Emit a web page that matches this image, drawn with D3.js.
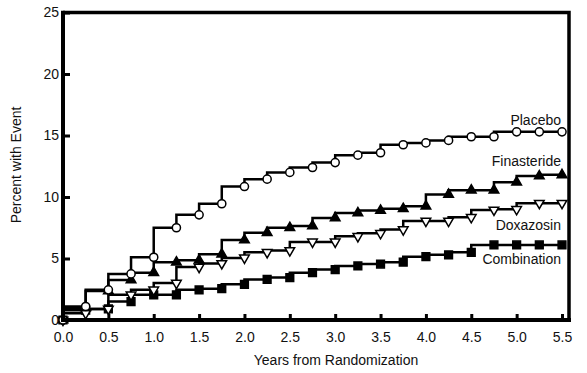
<!DOCTYPE html>
<html>
<head>
<meta charset="utf-8">
<script src="https://cdn.jsdelivr.net/npm/d3@7"></script>
<style>
  body { margin: 0; background: #fff; }
  svg text { font-family: "Liberation Sans", Arial, sans-serif; fill: #111; }
</style>
</head>
<body>
<svg></svg>
<script>
var years = [0, 0.25, 0.5, 0.75, 1.0, 1.25, 1.5, 1.75, 2.0, 2.25, 2.5, 2.75,
  3.0, 3.25, 3.5, 3.75, 4.0, 4.25, 4.5, 4.75, 5.0, 5.25, 5.5];
var placebo = [0, 1.1, 2.45, 3.75, 5.1, 7.5, 8.55, 9.45, 10.85, 11.45, 12.0, 12.4,
  12.8, 13.4, 13.6, 14.25, 14.4, 14.6, 14.9, 14.9, 15.3, 15.3, 15.3];
var finasteride = [0, 1.0, 2.35, 3.25, 3.85, 4.7, 4.85, 5.35, 6.5, 7.1, 7.5, 7.65,
  8.3, 8.7, 8.9, 9.05, 9.25, 10.2, 10.55, 10.55, 11.2, 11.7, 11.8];
var doxazosin = [0, 0.55, 0.9, 2.05, 2.45, 3.0, 4.3, 4.6, 5.05, 5.5, 5.65, 6.35,
  6.35, 6.8, 7.05, 7.35, 8.05, 8.05, 8.35, 8.95, 9.0, 9.5, 9.5];
var combination = [0, 0.8, 0.9, 1.5, 2.05, 2.05, 2.45, 2.55, 2.9, 3.3, 3.45, 3.85,
  4.1, 4.4, 4.55, 4.7, 5.15, 5.3, 5.5, 6.1, 6.1, 6.1, 6.1];
var seriesNames = ['Combination', 'Doxazosin', 'Finasteride', 'Placebo'];
var xTicks = [0, 0.5, 1.0, 1.5, 2.0, 2.5, 3.0, 3.5, 4.0, 4.5, 5.0, 5.5];
var yTicks = [0, 5, 10, 15, 20, 25];

var width = 587, height = 373;
var svg = d3.select('svg').attr('width', width).attr('height', height);

var x = d3.scaleLinear().domain([0, 5.5]).range([63, 562]);
var y = d3.scaleLinear().domain([0, 25]).range([320, 12.5]);

var series = [
  { name: seriesNames[0], values: combination, symbol: d3.symbolSquare, size: 60, fill: '#000', rot: 0, labelY: 264 },
  { name: seriesNames[1], values: doxazosin, symbol: d3.symbolTriangle, size: 40, fill: '#fff', rot: 180, labelY: 230 },
  { name: seriesNames[2], values: finasteride, symbol: d3.symbolTriangle, size: 40, fill: '#000', rot: 0, labelY: 166 },
  { name: seriesNames[3], values: placebo, symbol: d3.symbolCircle, size: 52, fill: '#fff', rot: 0, labelY: 125 }
];

// frame (top and right)
svg.append('path')
  .attr('d', 'M' + x(0) + ',' + y(25) + 'H569V' + y(0))
  .attr('fill', 'none')
  .attr('stroke', '#000')
  .attr('stroke-width', 3.5);

var line = d3.line()
  .x(function(d) { return x(d[0]); })
  .y(function(d) { return y(d[1]); })
  .curve(d3.curveStepBefore);

series.forEach(function(s) {
  var pts = years.map(function(t, i) { return [t, s.values[i]]; });
  svg.append('path')
    .datum(pts)
    .attr('d', line)
    .attr('fill', 'none')
    .attr('stroke', '#000')
    .attr('stroke-width', 2.5);
});

series.forEach(function(s) {
  var pts = years.map(function(t, i) { return [t, s.values[i]]; });
  svg.append('g')
    .selectAll('path')
    .data(pts)
    .enter().append('path')
    .attr('d', d3.symbol().type(s.symbol).size(s.size))
    .attr('transform', function(d) {
      return 'translate(' + x(d[0]) + ',' + y(d[1]) + ') rotate(' + s.rot + ')';
    })
    .attr('fill', s.fill)
    .attr('stroke', '#000')
    .attr('stroke-width', 1.5);
  svg.append('text')
    .attr('x', 561)
    .attr('y', s.labelY)
    .attr('text-anchor', 'end')
    .style('font-size', '14px')
    .text(s.name);
});

// axes
var xAxis = svg.append('g')
  .attr('transform', 'translate(0,' + y(0) + ')')
  .call(d3.axisBottom(x).tickValues(xTicks).tickFormat(d3.format('.1f'))
    .tickSizeInner(-6).tickSizeOuter(0).tickPadding(12));
var yAxis = svg.append('g')
  .attr('transform', 'translate(' + x(0) + ',0)')
  .call(d3.axisLeft(y).tickValues(yTicks).tickSizeInner(-7).tickSizeOuter(0).tickPadding(4));

[xAxis, yAxis].forEach(function(a) {
  a.select('.domain').attr('stroke', '#000').attr('stroke-width', 4);
  a.selectAll('.tick line').attr('stroke', '#000').attr('stroke-width', 3);
  a.selectAll('.tick text').style('font-size', '14px').attr('fill', '#111');
});
yAxis.select('.domain').attr('d', 'M0,' + (y(0) + 2) + 'V' + (y(25) - 1.75));
xAxis.select('.domain').attr('d', 'M' + (x(0) - 2) + ',0H571');

svg.append('text')
  .attr('x', 336)
  .attr('y', 365)
  .attr('text-anchor', 'middle')
  .style('font-size', '14px')
  .text('Years from Randomization');

svg.append('text')
  .attr('transform', 'translate(21,165) rotate(-90)')
  .attr('text-anchor', 'middle')
  .style('font-size', '14px')
  .text('Percent with Event');
</script>
</body>
</html>
